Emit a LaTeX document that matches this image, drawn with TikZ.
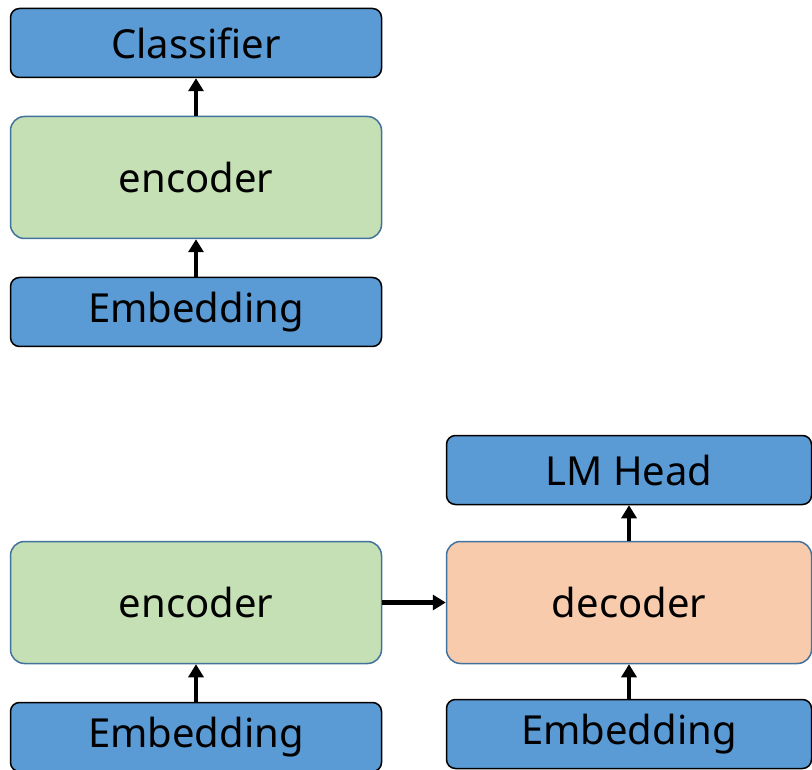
\documentclass[tikz,border=0pt]{standalone}
\usepackage{fontspec}
\setmainfont{Noto Sans}
\usetikzlibrary{arrows.meta}

\definecolor{bleu}{HTML}{5B9BD5}
\definecolor{vert}{HTML}{C5E0B4}
\definecolor{peche}{HTML}{F8CBAD}
\definecolor{bord}{HTML}{41719C}

\tikzset{
    couche/.style={draw=black, fill=bleu, rounded corners=9pt, line width=1.5pt,
        minimum width=371pt, minimum height=69pt, inner sep=0pt,
        font=\fontsize{40}{44}\selectfont},
    bloc/.style={draw=bord, rounded corners=14pt, line width=1.5pt,
        minimum width=371pt, minimum height=122pt, inner sep=0pt,
        font=\fontsize{40}{44}\selectfont},
    fleche/.style={-{Triangle[length=13pt,width=15pt]}, line width=4.5pt}
}

\begin{document}
\begin{tikzpicture}[x=1pt,y=-1pt]

\useasboundingbox (0,0) rectangle (812,770);

% Encoder seul
\node[couche] (emb) at (196,312) {Embedding};
\node[bloc, fill=vert] (enc) at (196,177.5) {encoder};
\node[couche] (cls) at (196,43) {Classifier};

\draw[fleche] (emb) -- (enc);
\draw[fleche] (enc) -- (cls);

% Encoder-decoder
\node[couche] (embg) at (196,737) {Embedding};
\node[bloc, fill=vert] (encb) at (196,602.5) {encoder};

\node[couche, minimum width=365pt] (embd) at (629,734) {Embedding};
\node[bloc, fill=peche, minimum width=365pt] (dec) at (629,602.5) {decoder};
\node[couche, minimum width=365pt] (lm) at (629,470) {LM Head};

\draw[fleche] (embg) -- (encb);
\draw[fleche] (encb) -- (dec);
\draw[fleche] (embd) -- (dec);
\draw[fleche] (dec) -- (lm);

\end{tikzpicture}
\end{document}
